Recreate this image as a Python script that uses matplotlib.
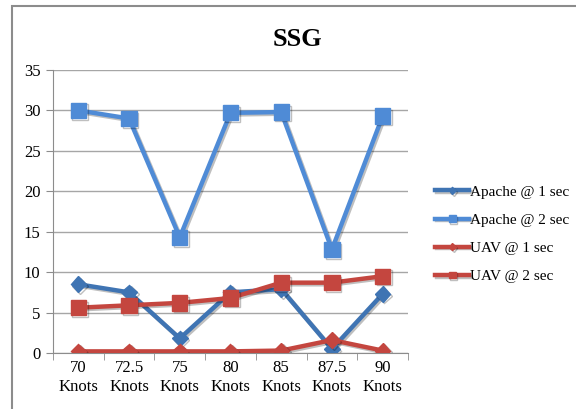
import numpy as np
import matplotlib
matplotlib.use('Agg')
import matplotlib.pyplot as plt
import matplotlib.patheffects as pe

categories = ["70\nKnots", "72.5\nKnots", "75\nKnots", "80\nKnots",
              "85\nKnots", "87.5\nKnots", "90\nKnots"]
apache_1s = [8.5, 7.5, 1.8, 7.5, 7.9, 0.5, 7.3]
apache_2s = [30.0, 29.0, 14.3, 29.7, 29.8, 12.8, 29.3]
uav_1s = [0.2, 0.2, 0.2, 0.2, 0.3, 1.6, 0.3]
uav_2s = [5.6, 5.9, 6.2, 6.8, 8.7, 8.7, 9.5]

plt.rcParams['font.family'] = ['Liberation Serif', 'DejaVu Serif']

fig = plt.figure(figsize=(5.76, 4.09), dpi=100)
ax = fig.add_axes([53 / 576, 1 - 353 / 409, 355 / 576, 283 / 409])

# chart frame
frame = plt.Rectangle((12 / 576, -0.1), 1.2, 1 - 6 / 409 + 0.1,
                      transform=fig.transFigure, fill=False,
                      edgecolor='#8c8c8c', linewidth=1.5)
fig.patches.append(frame)

x = np.arange(len(categories))
shadow = [pe.SimpleLineShadow(offset=(1.2, -1.2), alpha=0.25), pe.Normal()]

series = [
    (apache_1s, "Apache @ 1 sec", '#3f74b3', 'D', 8),
    (apache_2s, "Apache @ 2 sec", '#4f8bd6', 's', 11),
    (uav_1s, "UAV @ 1 sec", '#c4463f', 'D', 8),
    (uav_2s, "UAV @ 2 sec", '#c4463f', 's', 11),
]
for vals, label, color, marker, ms in series:
    ax.plot(x, vals, color=color, linewidth=3.2, marker=marker,
            markersize=ms, markeredgecolor=color, label=label,
            path_effects=shadow, zorder=3)

ax.set_xlim(-0.5, 6.5)
ax.set_ylim(0, 35)
ax.set_yticks(range(0, 36, 5))
ax.set_xticks(x)
ax.set_xticklabels(categories, fontsize=12, linespacing=1.25)
ax.set_xticks(np.arange(-0.5, 7, 1), minor=True)
ax.tick_params(axis='x', which='major', length=0, pad=5)
ax.tick_params(axis='x', which='minor', length=5, color='#8c8c8c')
ax.tick_params(axis='y', length=5, color='#8c8c8c', labelsize=12, pad=4)
ax.grid(axis='y', color='#a6a6a6', linewidth=1)
ax.set_axisbelow(True)
for s in ['top', 'right']:
    ax.spines[s].set_visible(False)
for s in ['left', 'bottom']:
    ax.spines[s].set_color('#8c8c8c')

fig.text(297 / 576, 1 - 40 / 409, "SSG", ha='center', va='center',
         fontsize=19, fontweight='bold')

leg = ax.legend(loc='center left', bbox_to_anchor=(1.06, 0.42),
                frameon=False, fontsize=11, handlelength=2.2,
                handletextpad=0.05, labelspacing=0.95, borderaxespad=0,
                markerscale=0.45)

fig.savefig("out.png", dpi=100)
